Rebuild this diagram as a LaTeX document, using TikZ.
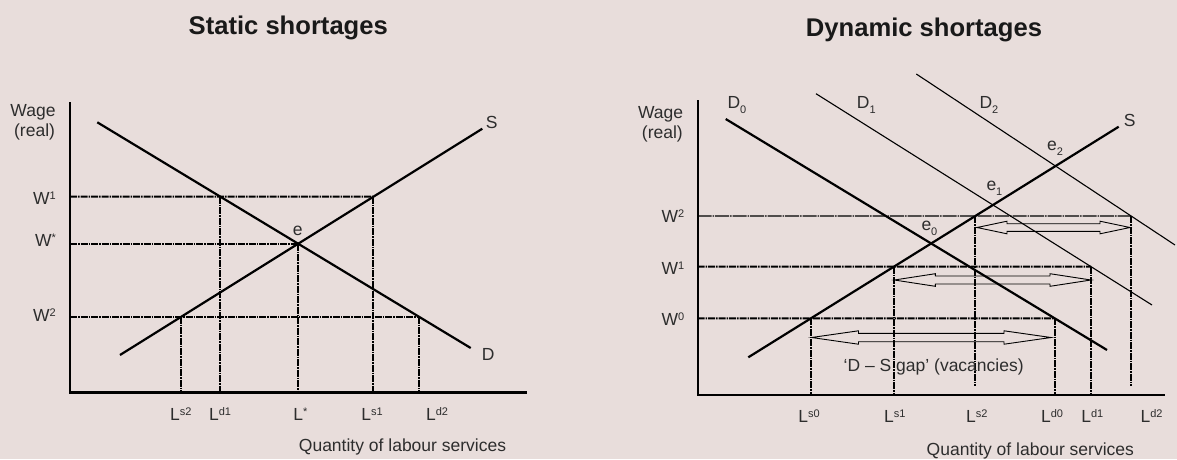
\documentclass[tikz,border=0pt]{standalone}
\usepackage{fontspec}
\setmainfont{Liberation Sans}
\definecolor{bg}{RGB}{232,221,219}
\definecolor{ink}{RGB}{45,45,45}
\newcommand\supx[1]{\raisebox{4.8pt}{\fontsize{11}{11}\selectfont #1}}
\newcommand\subx[1]{\raisebox{-5pt}{\fontsize{11}{11}\selectfont #1}}
\newcommand\fatarrow[6]{%
  \draw[fat] (#1,#3) -- ++(#4,-#5) -- ++(0,#5-#6) -- (#2-#4,#3-#6) -- ++(0,#6-#5)
  -- (#2,#3) -- ++(-#4,#5) -- ++(0,#6-#5) -- (#1+#4,#3+#6) -- ++(0,#5-#6) -- cycle;}
\begin{document}
\begin{tikzpicture}[x=1pt,y=-1pt,
  every node/.style={inner sep=0pt, text=ink, font=\fontsize{17.5}{21}\selectfont},
  title/.style={text=black!90, font=\bfseries\fontsize{25.6}{30}\selectfont, anchor=base},
  lab/.style={anchor=base},
  labr/.style={anchor=base east},
  labl/.style={anchor=base west},
  axisL/.style={line width=2.6pt, line join=miter},
  axisR/.style={line width=1.8pt, line join=miter},
  curveK/.style={line width=2.2pt},
  curveT/.style={line width=1.1pt},
  guide/.style={line width=2pt, dash pattern=on 7pt off 1pt on 1.5pt off 1pt},
  guideB/.style={line width=1.4pt, dash pattern=on 14pt off 1pt on 1.5pt off 1pt},
  fat/.style={line width=0.9pt, line join=miter}]
\fill[bg] (0,0) rectangle (1177,459);
\useasboundingbox (0,0) rectangle (1177,459);

% ---------------- Static shortages ----------------
\node[title] (t1) at (288.3,34.5) {Static shortages};
\coordinate (lTop) at (70,102.3);
\coordinate (lO) at (70,392.3);
\coordinate (lEnd) at (527.3,392.3);
\coordinate (lDa) at (97.3,122.3);
\coordinate (lDb) at (470.7,348);
\coordinate (lSa) at (120,355);
\coordinate (lSb) at (482.3,128.7);
\coordinate (lW1) at (70,196.7);
\coordinate (lW1r) at (600,196.7);
\coordinate (lW2) at (70,316.7);
\coordinate (lW2r) at (600,316.7);
\coordinate (le) at (intersection of lDa--lDb and lSa--lSb);
\coordinate (lS1) at (intersection of lSa--lSb and lW1--lW1r);
\coordinate (lD1) at (intersection of lDa--lDb and lW1--lW1r);
\coordinate (lS2) at (intersection of lSa--lSb and lW2--lW2r);
\coordinate (lD2) at (intersection of lDa--lDb and lW2--lW2r);

\draw[guide] (lW1) -- (lS1);
\draw[guide] (lO |- le) -- (le);
\draw[guide] (lW2) -- (lD2);
\draw[guide] (lS2) -- (lS2 |- lO);
\draw[guide] (lD1) -- (lD1 |- lO);
\draw[guide] (le) -- (le |- lO);
\draw[guide] (lS1) -- (lS1 |- lO);
\draw[guide] (lD2) -- (lD2 |- lO);

\draw[curveK] (lDa) -- (lDb);
\draw[curveK] (lSa) -- (lSb);
\draw[axisL] (lTop) -- (lO) -- (lEnd);

\node[labr] (lwage) at (55.7,116.7) {Wage};
\node[labr] (lreal) at (55.2,136.7) {(real)};
\node[labr] (lw1) at (56,204) {W\supx{1}};
\node[labr] (lws) at (56,246.3) {W\supx{*}};
\node[labr] (lw2) at (56,321.3) {W\supx{2}};
\node[lab] (lSl) at (491.7,128.3) {S};
\node[lab] (lDl) at (488.3,360.7) {D};
\node[lab] (lel) at (297.7,235.7) {e};
\node[lab] (lLs2) at (180.8,420) {L\supx{s2}};
\node[lab] (lLd1) at (220,420) {L\supx{d1}};
\node[lab] (lLst) at (300.3,420) {L\supx{*}};
\node[lab] (lLs1) at (372,420) {L\supx{s1}};
\node[lab] (lLd2) at (437,420) {L\supx{d2}};
\node[lab] (lq) at (402.5,451.7) {Quantity of labour services};

% ---------------- Dynamic shortages ----------------
\node[title] (t2) at (924,36) {Dynamic shortages};
\coordinate (rTop) at (697.7,100);
\coordinate (rO) at (697.7,394.7);
\coordinate (rEnd) at (1164.7,394.7);
\coordinate (rD0a) at (725.7,119);
\coordinate (rD0b) at (1107,350);
\coordinate (rD1a) at (816,93.7);
\coordinate (rD1b) at (1152,305);
\coordinate (rD2a) at (916.3,74);
\coordinate (rD2b) at (1175,245);
\coordinate (rSa) at (748.3,357.3);
\coordinate (rSb) at (1118.7,126.7);
\coordinate (rW2) at (697.7,216);
\coordinate (rW2r) at (1200,216);
\coordinate (rW1) at (697.7,266.7);
\coordinate (rW1r) at (1200,266.7);
\coordinate (rW0) at (697.7,318.3);
\coordinate (rW0r) at (1200,318.3);
\coordinate (rS0) at (intersection of rSa--rSb and rW0--rW0r);
\coordinate (rS1) at (intersection of rSa--rSb and rW1--rW1r);
\coordinate (rS2) at (intersection of rSa--rSb and rW2--rW2r);
\coordinate (rX0) at (intersection of rD0a--rD0b and rW0--rW0r);
\coordinate (rX1) at (intersection of rD1a--rD1b and rW1--rW1r);
\coordinate (rX2) at (intersection of rD2a--rD2b and rW2--rW2r);
\coordinate (rLow) at (697.7,385.7);

\draw[guideB] (rW2) -- (rX2);
\draw[guide] (rW1) -- (rX1);
\draw[guide] (rW0) -- (rX0);
\draw[guide] (rS0) -- (rS0 |- rO);
\draw[guide] (rS1) -- (rS1 |- rO);
\draw[guide] (rS2) -- (rS2 |- rLow);
\draw[guide] (rX0) -- (rX0 |- rO);
\draw[guide] (rX1) -- (rX1 |- rO);
\draw[guide] (rX2) -- (rX2 |- rLow);

\draw[curveK] (rD0a) -- (rD0b);
\draw[curveT] (rD1a) -- (rD1b);
\draw[curveT] (rD2a) -- (rD2b);
\draw[curveK] (rSa) -- (rSb);
\draw[axisR] (rTop) -- (rO) -- (rEnd);

\fatarrow{977}{1130}{227.5}{30}{6.3}{3.8}
\fatarrow{894.3}{1091}{280}{41}{6.3}{4}
\fatarrow{811.5}{1051}{337.5}{47}{6.7}{4.2}

\node[labr] (rwage) at (683.3,118.3) {Wage};
\node[labr] (rreal) at (683,138.8) {(real)};
\node[labr] (rw2) at (684.5,222.7) {W\supx{2}};
\node[labr] (rw1) at (684.5,274.7) {W\supx{1}};
\node[labr] (rw0) at (684.5,325) {W\supx{0}};
\node[labl] (rd0) at (727.3,108.3) {D\subx{0}};
\node[labl] (rd1) at (856.7,108.3) {D\subx{1}};
\node[labl] (rd2) at (979.3,108.3) {D\subx{2}};
\node[labl] (rSl) at (1123.7,126) {S};
\node[labl] (re2) at (1047,150) {e\subx{2}};
\node[labl] (re1) at (986.3,190.7) {e\subx{1}};
\node[labl] (re0) at (921.3,230) {e\subx{0}};
\node[lab] (rLs0) at (809,422.3) {L\supx{s0}};
\node[lab] (rLs1) at (894.8,422.3) {L\supx{s1}};
\node[lab] (rLs2) at (976.7,422.3) {L\supx{s2}};
\node[lab] (rLd0) at (1052,422.3) {L\supx{d0}};
\node[lab] (rLd1) at (1092.3,422.3) {L\supx{d1}};
\node[lab] (rLd2) at (1151.5,422.3) {L\supx{d2}};
\node[lab] (rgap) at (933.7,371.7) {‘D – S gap’ (vacancies)};
\node[lab] (rq) at (1030.3,455) {Quantity of labour services};
\end{tikzpicture}
\end{document}
